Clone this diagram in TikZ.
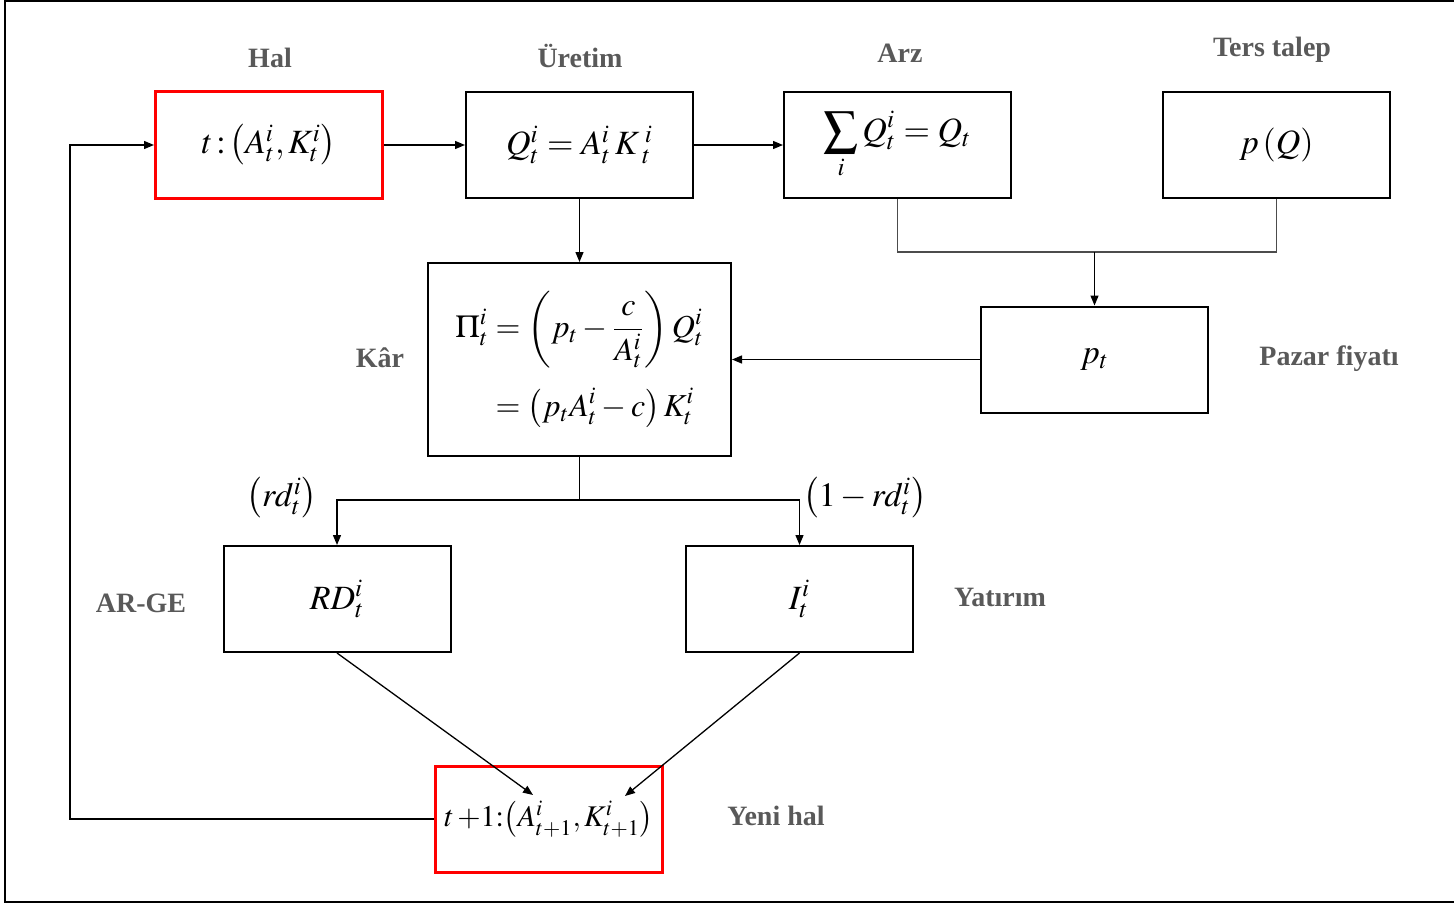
\documentclass[tikz,border=0pt]{standalone}
\usepackage{amsmath}
\usepackage{mathptmx}
\usepackage{fontspec}
\setmainfont{Liberation Serif}
\usetikzlibrary{arrows.meta}
\definecolor{lab}{HTML}{595959}
\definecolor{boxred}{HTML}{FF0000}
\tikzset{
  box/.style={draw=black, line width=1pt, minimum width=113.5pt, minimum height=53pt, inner sep=0pt, font=\fontsize{17}{20}\selectfont},
  redbox/.style={box, draw=boxred, line width=1.5pt},
  lbl/.style={text=lab, font=\fontsize{14}{16}\selectfont\bfseries, inner sep=0pt},
  mth/.style={font=\fontsize{17}{20}\selectfont, inner sep=0pt},
  conn/.style={draw=black, line width=0.65pt},
  arr/.style={conn, -{Triangle[length=5pt,width=4pt]}},
  gline/.style={draw=black!70, line width=0.6pt}
}
\begin{document}
\begin{tikzpicture}[x=0.5pt,y=-0.5pt]
\useasboundingbox (0,0) rectangle (1454,904);
\draw[line width=1pt] (1454,1) -- (5,1) -- (5,902) -- (1454,902);

% boxes
\node[redbox] (hal) at (269,145) {$t\,{:}\left(A^i_t,K^i_t\right)$};
\node[box] (ure) at (579.5,145) {$Q^i_t = A^i_t\,K^{\;i}_{\;t}$};
\node[box] (arz) at (897.5,145) {$\displaystyle\sum_i Q^i_t = Q_t$};
\node[box] (ters) at (1276.5,145) {$p\left(Q\right)$};
\node[box, minimum width=151.5pt, minimum height=96.5pt, font=\fontsize{16}{19}\selectfont] (kar) at (579.5,359.5)
  {$\begin{aligned}\Pi^i_t &= \left(p_t-\dfrac{c}{A^i_t}\right)Q^i_t\\[6pt] &= \left(p_tA^i_t-c\right)K^i_t\end{aligned}$};
\node[box] (paz) at (1094.5,359.5) {$p_t$};
\node[box] (rd) at (337,599) {$RD^i_t$};
\node[box] (inv) at (799.5,599) {$I^i_t$};
\node[redbox, font=\fontsize{15}{18}\selectfont] (yeni) at (549,819) {$t\,{+}1{:}\!\left(A^i_{t+1},K^i_{t+1}\right)$};

% labels
\node[lbl] (lhal) at (270,58) {Hal};
\node[lbl] (lure) at (580,56) {Üretim};
\node[lbl] (larz) at (900,53) {Arz};
\node[lbl] (lters) at (1272,50) {Ters talep};
\node[lbl] (lkar) at (380,358) {Kâr};
\node[lbl] (lpaz) at (1329,359) {Pazar fiyatı};
\node[lbl] (large) at (141,603) {AR-GE};
\node[lbl] (lyat) at (1000,597) {Yatırım};
\node[lbl] (lyeni) at (776,816) {Yeni hal};
\node[mth] (lrd) at (282,498) {$\left(rd^i_t\right)$};
\node[mth] (linv) at (865,498) {$\left(1-rd^i_t\right)$};

% connectors
\draw[arr] (hal.east) -- (ure.west);
\draw[arr] (ure.east) -- (arz.west);
\draw[arr] (ure.south) -- (kar.north);
\coordinate (j1) at (1094.5,252);
\draw[gline] (arz.south) |- (j1);
\draw[gline] (ters.south) |- (j1);
\draw[arr] (j1) -- (paz.north);
\draw[arr] (paz.west) -- (kar.east);
\coordinate (j2) at (579.5,500);
\draw[conn] (kar.south) -- (j2);
\draw[arr] (j2) -| (rd.north);
\draw[arr] (j2) -| (inv.north);
\coordinate (ya) at (533,795);
\coordinate (yk) at (625,796);
\draw[arr] (rd.south) -- (ya);
\draw[arr] (inv.south) -- (yk);
\coordinate (c1) at (70,819);
\draw[arr] (yeni.west) -- (c1) |- (hal.west);
\end{tikzpicture}
\end{document}
